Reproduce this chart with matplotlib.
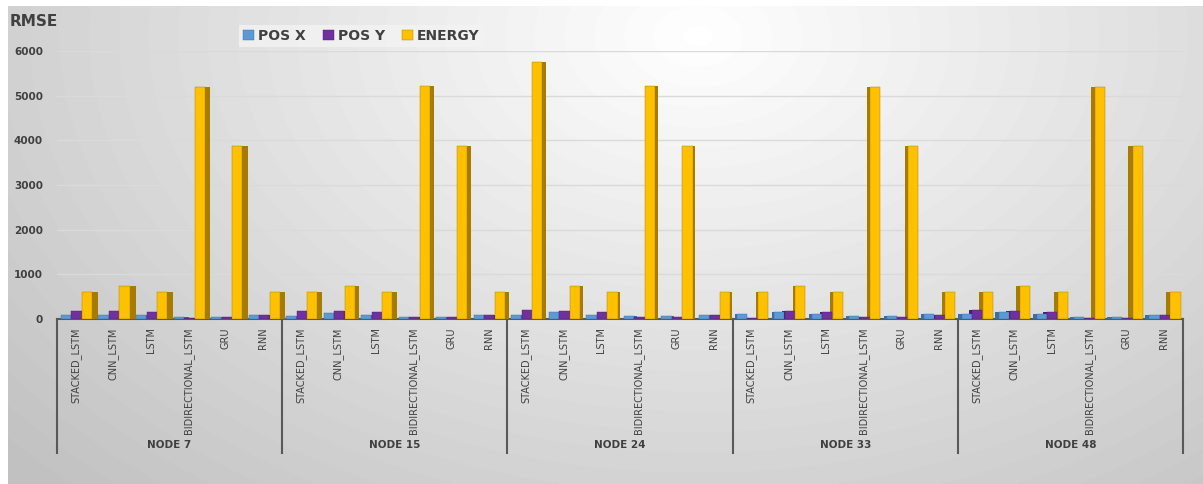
import numpy as np
import matplotlib
matplotlib.use("Agg")
from matplotlib import pyplot as plt

nodes = ["NODE 7", "NODE 15", "NODE 24", "NODE 33", "NODE 48"]
models = ["STACKED_LSTM", "CNN_LSTM", "LSTM", "BIDIRECTIONAL_LSTM", "GRU", "RNN"]

# values per node, in model order
pos_x = [
    [80, 100, 90, 40, 40, 90],
    [60, 130, 100, 50, 50, 100],
    [100, 150, 100, 60, 60, 100],
    [110, 150, 110, 60, 60, 110],
    [110, 150, 110, 50, 50, 100],
]
pos_y = [
    [180, 170, 150, 30, 40, 90],
    [190, 170, 150, 40, 40, 80],
    [200, 170, 150, 50, 50, 90],
    [30, 170, 150, 40, 40, 80],
    [200, 170, 150, 30, 30, 80],
]
energy = [
    [600, 730, 600, 5200, 3880, 600],
    [600, 730, 600, 5220, 3880, 600],
    [5750, 730, 600, 5220, 3880, 600],
    [600, 730, 600, 5200, 3880, 600],
    [600, 730, 600, 5200, 3880, 600],
]

series = [
    ("POS X", pos_x, "#5b9bd5", "#3d6f9e", -0.26),
    ("POS Y", pos_y, "#7030a0", "#4a1d6c", 0.02),
    ("ENERGY", energy, "#ffc000", "#a67c00", 0.30),
]

fig = plt.figure(figsize=(12.03, 4.84), dpi=100)
fig.patch.set_facecolor("white")

# background gradient (white margin at top and left like the screenshot)
bg = fig.add_axes([8 / 1203, 0, 1195 / 1203, 478 / 484], zorder=-10)
yy, xx = np.mgrid[0:478, 0:1195]
d = np.sqrt(((xx - 690) / 760.0) ** 2 + ((yy - 30) / 520.0) ** 2)
shade = 1.0 - 0.2 * np.clip(d, 0, 1.2)
bg.imshow(shade, cmap="gray", vmin=0, vmax=1, aspect="auto", extent=[0, 1, 0, 1])
bg.axis("off")

ax = fig.add_axes([57 / 1203, 1 - 319 / 484, 1126 / 1203, 268 / 484])
ax.patch.set_alpha(0)

n_cat = len(nodes) * len(models)
xs = np.arange(n_cat)
w = 0.27
mid = 17.5
# depth face: right of the bar on the left half, left of it on the right half
side = 0.05 + 0.12 * np.abs(xs - mid) / mid
sign = np.where(xs < mid, 1, -1)

for name, vals, col, dark, off in series:
    flat = np.array(vals).ravel()
    ax.bar(xs + off + sign * (w / 2 + side / 2), flat, width=side, color=dark, zorder=3)
    ax.bar(xs + off, flat, width=w, color=col, label=name, zorder=4,
           edgecolor=dark, linewidth=0.3)

ax.set_xlim(-0.5, n_cat - 0.5)
ax.set_ylim(0, 6000)
ax.set_yticks(range(0, 6001, 1000))
ax.yaxis.grid(True, color="#dadada", linewidth=1, zorder=0)
ax.tick_params(axis="y", length=0, labelsize=7.5, labelcolor="#404040", pad=10)
for t in ax.get_yticklabels():
    t.set_fontweight("bold")

ax.set_xticks(xs)
ax.set_xticklabels(models * len(nodes), rotation=90, fontsize=7, color="#404040",
                   va="top")
ax.tick_params(axis="x", length=0, pad=6)

for s in ["top", "right", "left"]:
    ax.spines[s].set_visible(False)
ax.spines["bottom"].set_color("#595959")
ax.spines["bottom"].set_linewidth(1.5)

# group separators and node labels
trans = ax.get_xaxis_transform()
for k in range(len(nodes) + 1):
    ax.plot([k * 6 - 0.5, k * 6 - 0.5], [0, -0.5], color="#595959", lw=1.5,
            transform=trans, clip_on=False)
for k, nd in enumerate(nodes):
    ax.text(k * 6 + 2.5, -0.47, nd, transform=trans, ha="center", va="center",
            fontsize=7.5, fontweight="bold", color="#404040")

fig.text(10 / 1203, 1 - 22 / 484, "RMSE", fontsize=11, fontweight="bold",
         color="#404040", va="center")

leg = fig.legend(loc="center left", bbox_to_anchor=(232 / 1203, 1 - 36 / 484), ncol=3,
                 frameon=True, fontsize=10, handlelength=0.8, handleheight=0.8,
                 handletextpad=0.3, columnspacing=1.2, fancybox=False,
                 borderpad=0.3)
leg.get_frame().set_facecolor("#f3f3f3")
leg.get_frame().set_edgecolor("none")
leg.get_frame().set_alpha(0.8)
for t in leg.get_texts():
    t.set_fontweight("bold")
    t.set_color("#404040")

fig.savefig("out.png", dpi=100, facecolor="white")
